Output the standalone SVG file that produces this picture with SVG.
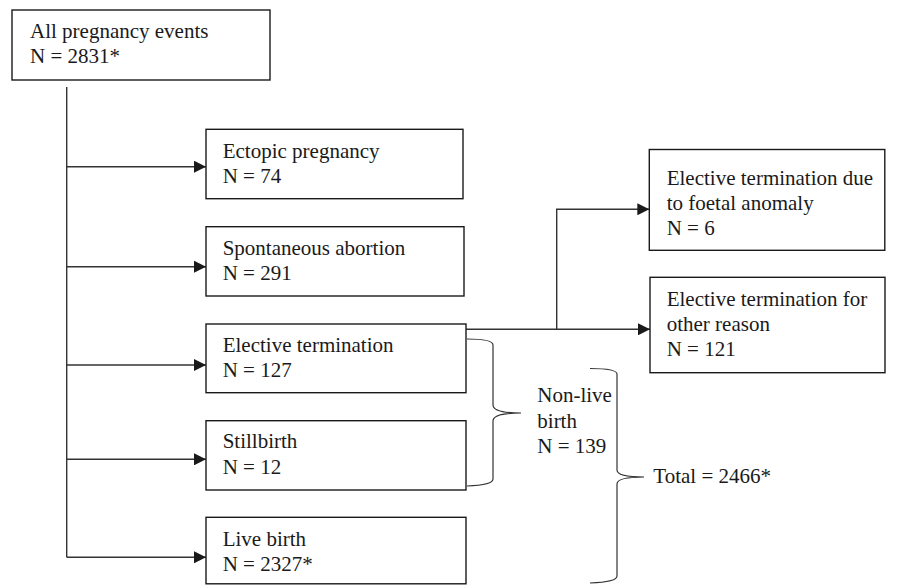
<svg xmlns="http://www.w3.org/2000/svg" width="899" height="585" viewBox="0 0 899 585">
<style>
.box{fill:#fff;stroke:#1a1a1a;stroke-width:1.4}
.t{font-family:"Liberation Serif","Times New Roman",serif;font-size:21px;fill:#1a1a1a}
.c{fill:none;stroke:#333;stroke-width:1.4}
.br{fill:none;stroke:#333;stroke-width:1.2}
</style>
<defs>
<marker id="ah" markerUnits="userSpaceOnUse" markerWidth="13" markerHeight="12" refX="12" refY="6" orient="auto">
<path d="M0,0 L12,6 L0,12 Z" fill="#1a1a1a"/>
</marker>
</defs>
<rect width="899" height="585" fill="#fff"/>
<g id="connectors">
<path class="c" d="M66.7,87 V557.3"/>
<path class="c" d="M66.7,166.7 H206" marker-end="url(#ah)"/>
<path class="c" d="M66.7,266.7 H206" marker-end="url(#ah)"/>
<path class="c" d="M66.7,365 H206" marker-end="url(#ah)"/>
<path class="c" d="M66.7,459.3 H206" marker-end="url(#ah)"/>
<path class="c" d="M66.7,557.3 H206" marker-end="url(#ah)"/>
<path class="c" d="M466,329.3 H650" marker-end="url(#ah)"/>
<path class="c" d="M556.7,329.3 V209.3 H649.3" marker-end="url(#ah)"/>
<path class="br" d="M467,339 Q493,339 493,345 V405 Q493,413 521,413 Q493,413 493,421 V479 Q493,485 467,486"/>
<path class="br" d="M590,368.5 Q617,368.5 617,374 V470 Q617,477 644,477 Q617,477 617,484 V576 Q617,582 590,583"/>
</g>
<g id="all">
<rect class="box" x="12" y="10" width="258" height="70"/>
<text class="t" x="30" y="38.3">All pregnancy events</text>
<text class="t" x="30" y="63.3">N = 2831*</text>
</g>
<g id="ectopic">
<rect class="box" x="206" y="129.3" width="257" height="69.4"/>
<text class="t" x="222.7" y="158.3">Ectopic pregnancy</text>
<text class="t" x="222.7" y="183.3">N = 74</text>
</g>
<g id="spontaneous">
<rect class="box" x="206" y="226.7" width="258" height="69.3"/>
<text class="t" x="222.7" y="255">Spontaneous abortion</text>
<text class="t" x="222.7" y="280">N = 291</text>
</g>
<g id="elective">
<rect class="box" x="206" y="324" width="260" height="68.7"/>
<text class="t" x="222.7" y="351.7">Elective termination</text>
<text class="t" x="222.7" y="377.3">N = 127</text>
</g>
<g id="stillbirth">
<rect class="box" x="206" y="420.7" width="260" height="69.3"/>
<text class="t" x="222.7" y="448.3">Stillbirth</text>
<text class="t" x="222.7" y="474">N = 12</text>
</g>
<g id="livebirth">
<rect class="box" x="206" y="517.3" width="260" height="66.5"/>
<text class="t" x="222.7" y="546">Live birth</text>
<text class="t" x="222.7" y="570.7">N = 2327*</text>
</g>
<g id="foetal">
<rect class="box" x="649.3" y="149.5" width="235.5" height="100.8"/>
<text class="t" x="666.7" y="185">Elective termination due</text>
<text class="t" x="666.7" y="210">to foetal anomaly</text>
<text class="t" x="666.7" y="235">N = 6</text>
</g>
<g id="other">
<rect class="box" x="650" y="277.3" width="235" height="95.4"/>
<text class="t" x="666.7" y="306">Elective termination for</text>
<text class="t" x="666.7" y="331">other reason</text>
<text class="t" x="666.7" y="356">N = 121</text>
</g>
<g id="nonlive">
<text class="t" x="537.3" y="402">Non-live</text>
<text class="t" x="537.3" y="427.5">birth</text>
<text class="t" x="537.3" y="453">N = 139</text>
</g>
<g id="total">
<text class="t" x="653.3" y="483">Total = 2466*</text>
</g>
</svg>
